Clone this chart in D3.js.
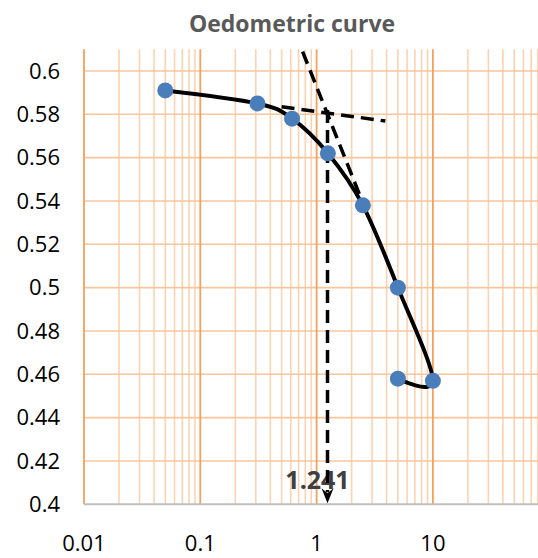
<!DOCTYPE html>
<html>
  <head>
    <meta charset="utf-8">
    <title>Oedometric curve</title>
    <style>
      body { margin: 0; background: #fff; }
      svg { display: block; }
      .tick-label { font-family: "Open Sans", "Liberation Sans", sans-serif; font-size: 22px; fill: #000; }
      .title { font-family: "Open Sans", "Liberation Sans", sans-serif; font-size: 23px; font-weight: bold; fill: #595959; }
      .note { font-family: "Open Sans", "Liberation Sans", sans-serif; font-size: 25px; font-weight: bold; fill: #404040; }
    </style>
    <script src="https://cdn.jsdelivr.net/npm/d3@7"></script>
  </head>
  <body>
    <svg id="chart" width="538" height="558"></svg>
    <script>
      // measured points (load, void ratio)
      var loads = [0.05, 0.31, 0.615, 1.25, 2.5, 5, 10, 5];
      var voidRatio = [0.591, 0.585, 0.578, 0.562, 0.538, 0.500, 0.457, 0.458];

      // construction lines
      var flatLine = [[0.5, 0.5835], [3.9, 0.5769]];
      var steepLine = [[0.758, 0.6089], [2.5, 0.5391]];
      var sigmaP = 1.241;
      var sigmaPTop = 0.582;

      var xTicks = [0.01, 0.1, 1, 10];
      var yTicks = [0.4, 0.42, 0.44, 0.46, 0.48, 0.5, 0.52, 0.54, 0.56, 0.58, 0.6];

      var svg = d3.select("#chart");
      var plotLeft = 84, plotTop = 49.3, plotBottom = 504.3;
      var decade = 116.3;

      var x = d3.scaleLog().domain([0.01, 100]).range([plotLeft, plotLeft + 4 * decade]);
      var y = d3.scaleLinear().domain([0.4, 0.61]).range([plotBottom, plotTop]);

      var plot = svg.append("g");

      // minor vertical gridlines
      var minor = [];
      [0.01, 0.1, 1, 10].forEach(function(d) {
        for (var k = 2; k <= 9; k++) minor.push(d * k);
      });
      plot.selectAll(".minor").data(minor).enter().append("line")
        .attr("x1", function(d) { return x(d); })
        .attr("x2", function(d) { return x(d); })
        .attr("y1", plotTop).attr("y2", plotBottom)
        .attr("stroke", "#fbd3b2").attr("stroke-width", 1.6);

      // horizontal gridlines
      plot.selectAll(".hgrid").data(yTicks.slice(1)).enter().append("line")
        .attr("x1", plotLeft).attr("x2", 538)
        .attr("y1", function(d) { return y(d); })
        .attr("y2", function(d) { return y(d); })
        .attr("stroke", "#f9c69c").attr("stroke-width", 1.6);

      // major vertical gridlines
      plot.selectAll(".major").data(xTicks).enter().append("line")
        .attr("x1", function(d) { return x(d); })
        .attr("x2", function(d) { return x(d); })
        .attr("y1", plotTop).attr("y2", plotBottom)
        .attr("stroke", "#f4a15c").attr("stroke-width", 1.8);

      // bottom axis line
      plot.append("line")
        .attr("x1", plotLeft).attr("x2", 538)
        .attr("y1", plotBottom).attr("y2", plotBottom)
        .attr("stroke", "#bfbfbf").attr("stroke-width", 2);

      // tick labels
      svg.selectAll(".ylab").data(yTicks).enter().append("text")
        .attr("class", "tick-label")
        .attr("x", 60)
        .attr("y", function(d) { return y(d); })
        .attr("dy", "0.35em")
        .attr("text-anchor", "end")
        .text(function(d) { return String(+d.toFixed(2)); });

      svg.selectAll(".xlab").data(xTicks).enter().append("text")
        .attr("class", "tick-label")
        .attr("x", function(d) { return x(d); })
        .attr("y", 551)
        .attr("text-anchor", "middle")
        .text(function(d) { return String(d); });

      svg.append("text")
        .attr("class", "title")
        .attr("x", 292).attr("y", 32)
        .attr("text-anchor", "middle")
        .text("Oedometric curve");

      // preconsolidation label
      svg.append("text")
        .attr("class", "note")
        .attr("x", x(sigmaP) - 10).attr("y", 489)
        .attr("text-anchor", "middle")
        .text(String(sigmaP));

      // dashed construction lines
      var dashed = d3.line()
        .x(function(d) { return x(d[0]); })
        .y(function(d) { return y(d[1]); });

      var vertical = [[sigmaP, sigmaPTop], [sigmaP, y.invert(plotBottom - 12)]];
      [flatLine, steepLine, vertical].forEach(function(seg) {
        svg.append("path")
          .attr("d", dashed(seg))
          .attr("fill", "none")
          .attr("stroke", "#000")
          .attr("stroke-width", 3.5)
          .attr("stroke-dasharray", "13,7");
      });

      // arrowhead
      var ax = x(sigmaP), ay = y(0.4) - 1;
      svg.append("path")
        .attr("d", "M" + ax + "," + ay + "L" + (ax - 6) + "," + (ay - 15) +
                   "L" + ax + "," + (ay - 10) + "L" + (ax + 6) + "," + (ay - 15) + "Z")
        .attr("fill", "#000");

      // smoothed curve through points
      var pts = loads.map(function(d, i) { return [d, voidRatio[i]]; });
      var curve = d3.line()
        .x(function(d) { return x(d[0]); })
        .y(function(d) { return y(d[1]); })
        .curve(d3.curveCardinal.tension(0));

      svg.append("path")
        .attr("d", curve(pts))
        .attr("fill", "none")
        .attr("stroke", "#000")
        .attr("stroke-width", 4);

      svg.selectAll(".pt").data(pts).enter().append("circle")
        .attr("cx", function(d) { return x(d[0]); })
        .attr("cy", function(d) { return y(d[1]); })
        .attr("r", 8)
        .attr("fill", "#4a7ebb");
    </script>
  </body>
</html>
